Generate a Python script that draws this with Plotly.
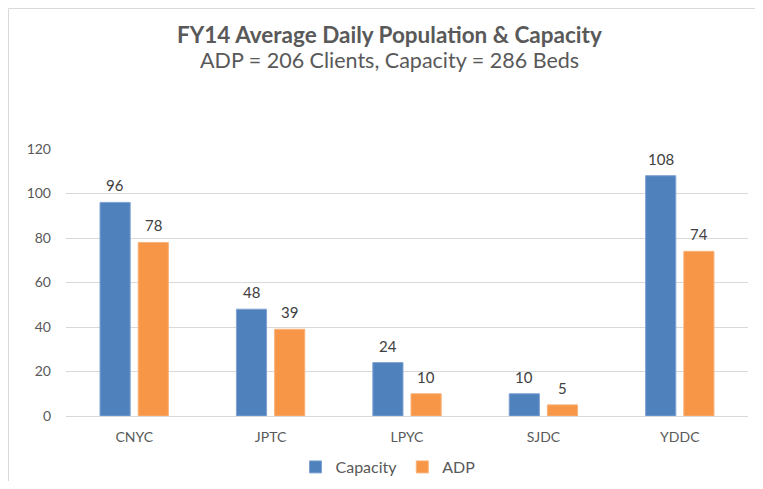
import plotly.graph_objects as go

categories = ["CNYC", "JPTC", "LPYC", "SJDC", "YDDC"]
capacity = [96, 48, 24, 10, 108]
adp = [78, 39, 10, 5, 74]
y_ticks = [0, 20, 40, 60, 80, 100, 120]

# page offset of the plot div (default body margin on every side)
OFF = 8
W, H = 763 - 2 * OFF, 489 - 2 * OFF
def fx(x): return x - OFF
def fy(y): return y - OFF

L, R, T, B = fx(66), W - fx(748), fy(149), H - fy(416)

font_family = "Lato, 'Open Sans', sans-serif"
gray = "#595959"
BARGAP, GROUPGAP = 0.44, 0.21

pw, ph = W - L - R, H - T - B
def px(x): return (fx(x) - L) / pw
def py(y): return (H - B - fy(y)) / ph

fig = go.Figure()
fig.add_trace(go.Bar(name="Capacity", x=categories, y=capacity, marker_color="#4F81BD",
                     marker_line=dict(color="#7FA3D3", width=1)))
fig.add_trace(go.Bar(name="ADP", x=categories, y=adp, marker_color="#F79646",
                     marker_line=dict(color="#F9B37C", width=1)))

# value labels above each bar (offset to each bar's centre within its group)
slot = pw / len(categories) * (1 - BARGAP) / 2
annotations = []
for series, sign in ((capacity, -1), (adp, 1)):
    for c, v in zip(categories, series):
        annotations.append(dict(x=c, y=v, xref="x", yref="y", text=str(v), showarrow=False,
                                xshift=sign * slot / 2, yshift=17, yanchor="middle",
                                font=dict(size=15, color="#404040", family=font_family)))

annotations += [
    dict(text="<b>FY14 Average Daily Population &amp; Capacity</b>", xref="paper", yref="paper",
         x=px(389), y=py(34), xanchor="center", yanchor="middle", showarrow=False,
         font=dict(size=22.5, color=gray, family=font_family)),
    dict(text="ADP = 206 Clients, Capacity = 286 Beds", xref="paper", yref="paper",
         x=px(389), y=py(60), xanchor="center", yanchor="middle", showarrow=False,
         font=dict(size=21.5, color=gray, family=font_family)),
]

fig.update_layout(
    width=W, height=H,
    margin=dict(l=L, r=R, t=T, b=B, autoexpand=False),
    paper_bgcolor="white", plot_bgcolor="white",
    barmode="group", bargap=BARGAP, bargroupgap=GROUPGAP,
    font=dict(family=font_family, color=gray, size=14),
    showlegend=True,
    legend=dict(orientation="h", x=px(388), xanchor="center", y=py(467), yanchor="middle",
                font=dict(size=16, color=gray), itemwidth=30, traceorder="normal"),
    xaxis=dict(showgrid=False, showline=True, linecolor="#D9D9D9", linewidth=1,
               ticks="", ticklabelstandoff=8, automargin=False,
               tickfont=dict(size=14, color=gray)),
    yaxis=dict(range=[0, 120], tickvals=y_ticks, showgrid=True, gridcolor="#D9D9D9",
               zeroline=False, showline=False, ticks="", ticklabelstandoff=14, automargin=False,
               tickfont=dict(size=14, color=gray)),
    shapes=[dict(type="rect", xref="paper", yref="paper",
                 x0=px(OFF + 0.5), x1=px(763 + 10), y0=py(489 + 10), y1=py(OFF + 0.5),
                 line=dict(color="#D9D9D9", width=1), layer="below")],
    annotations=annotations,
)

fig.write_html("out.html")
